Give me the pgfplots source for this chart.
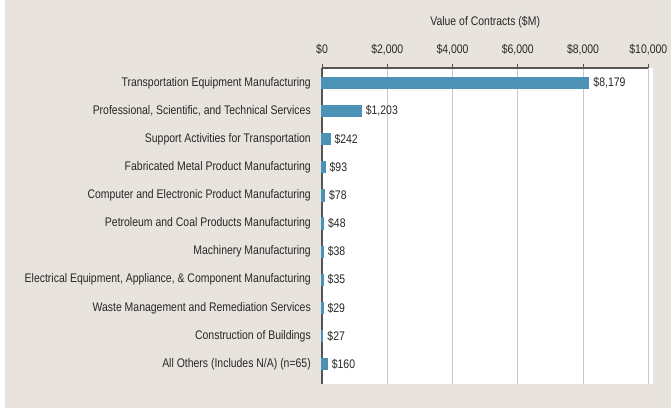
\documentclass[border=0pt]{standalone}
\usepackage{pgfplots}
\pgfplotsset{compat=1.18}
\usepackage{pgfplotstable}
\usepackage{fontspec}
\setmainfont{Liberation Sans}[FakeStretch=0.84]
\definecolor{bgbeige}{RGB}{232,227,221}
\definecolor{barblue}{RGB}{75,146,182}
\definecolor{txt}{RGB}{40,40,40}
\definecolor{gridg}{RGB}{200,200,200}
\definecolor{axg}{RGB}{85,85,85}
\newcommand\lbl{\fontsize{12.5}{14}\selectfont}

\pgfplotstableread{
pos val lab
10 8179 8,179
9 1203 1,203
8 242 242
7 93 93
6 78 78
5 48 48
4 38 38
3 35 35
2 29 29
1 27 27
0 160 160
}\data

\begin{document}
\begin{tikzpicture}[x=1bp,y=1bp]
\useasboundingbox (0,0) rectangle (671,-412);
\fill[white] (0,0) rectangle (671,-412);
\fill[bgbeige] (5,0) rectangle (671,-408);
\fill[white] (322,-68) rectangle (653,-384);
\begin{axis}[
  at={(322bp,-68bp)}, anchor=north west,
  scale only axis, width=326.3bp, height=316bp,
  xmin=0, xmax=10000,
  ymin=-0.71, ymax=10.534,
  scaled x ticks=false,
  axis x line*=top, axis y line*=left,
  axis line style={draw=axg, line width=1.1bp, -},
  xtick={0,2000,4000,6000,8000,10000},
  xticklabels={{\$0},{\$2,000},{\$4,000},{\$6,000},{\$8,000},{\$10,000}},
  xtick style={draw=axg, line width=1bp},
  tick align=outside, major tick length=4bp,
  xmajorgrids, grid style={gridg, line width=1bp},
  ytick={0,1,2,3,4,5,6,7,8,9,10},
  yticklabels={{All Others (Includes N/A) (n=65)},{Construction of Buildings},{Waste Management and Remediation Services},{Electrical Equipment, Appliance, \& Component Manufacturing},{Machinery Manufacturing},{Petroleum and Coal Products Manufacturing},{Computer and Electronic Product Manufacturing},{Fabricated Metal Product Manufacturing},{Support Activities for Transportation},{Professional, Scientific, and Technical Services},{Transportation Equipment Manufacturing}},
  ytick style={draw=none},
  yticklabel style={font=\lbl, text=txt, inner sep=0pt, xshift=-7bp},
  xticklabel style={font=\lbl, text=txt, inner sep=0pt, yshift=9bp},
  xlabel={Value of Contracts (\$M)},
  xlabel style={font=\lbl, text=txt, yshift=12bp},
  clip=false,
]
\addplot[xbar, fill=barblue, draw=barblue, line width=1.2bp, bar width=11bp,
  point meta=explicit symbolic,
  nodes near coords={\$\pgfplotspointmeta},
  nodes near coords style={anchor=west, xshift=3bp, font=\lbl, text=txt, inner sep=1bp}]
  table[x=val, y=pos, meta=lab]{\data};
\end{axis}
\end{tikzpicture}
\end{document}
